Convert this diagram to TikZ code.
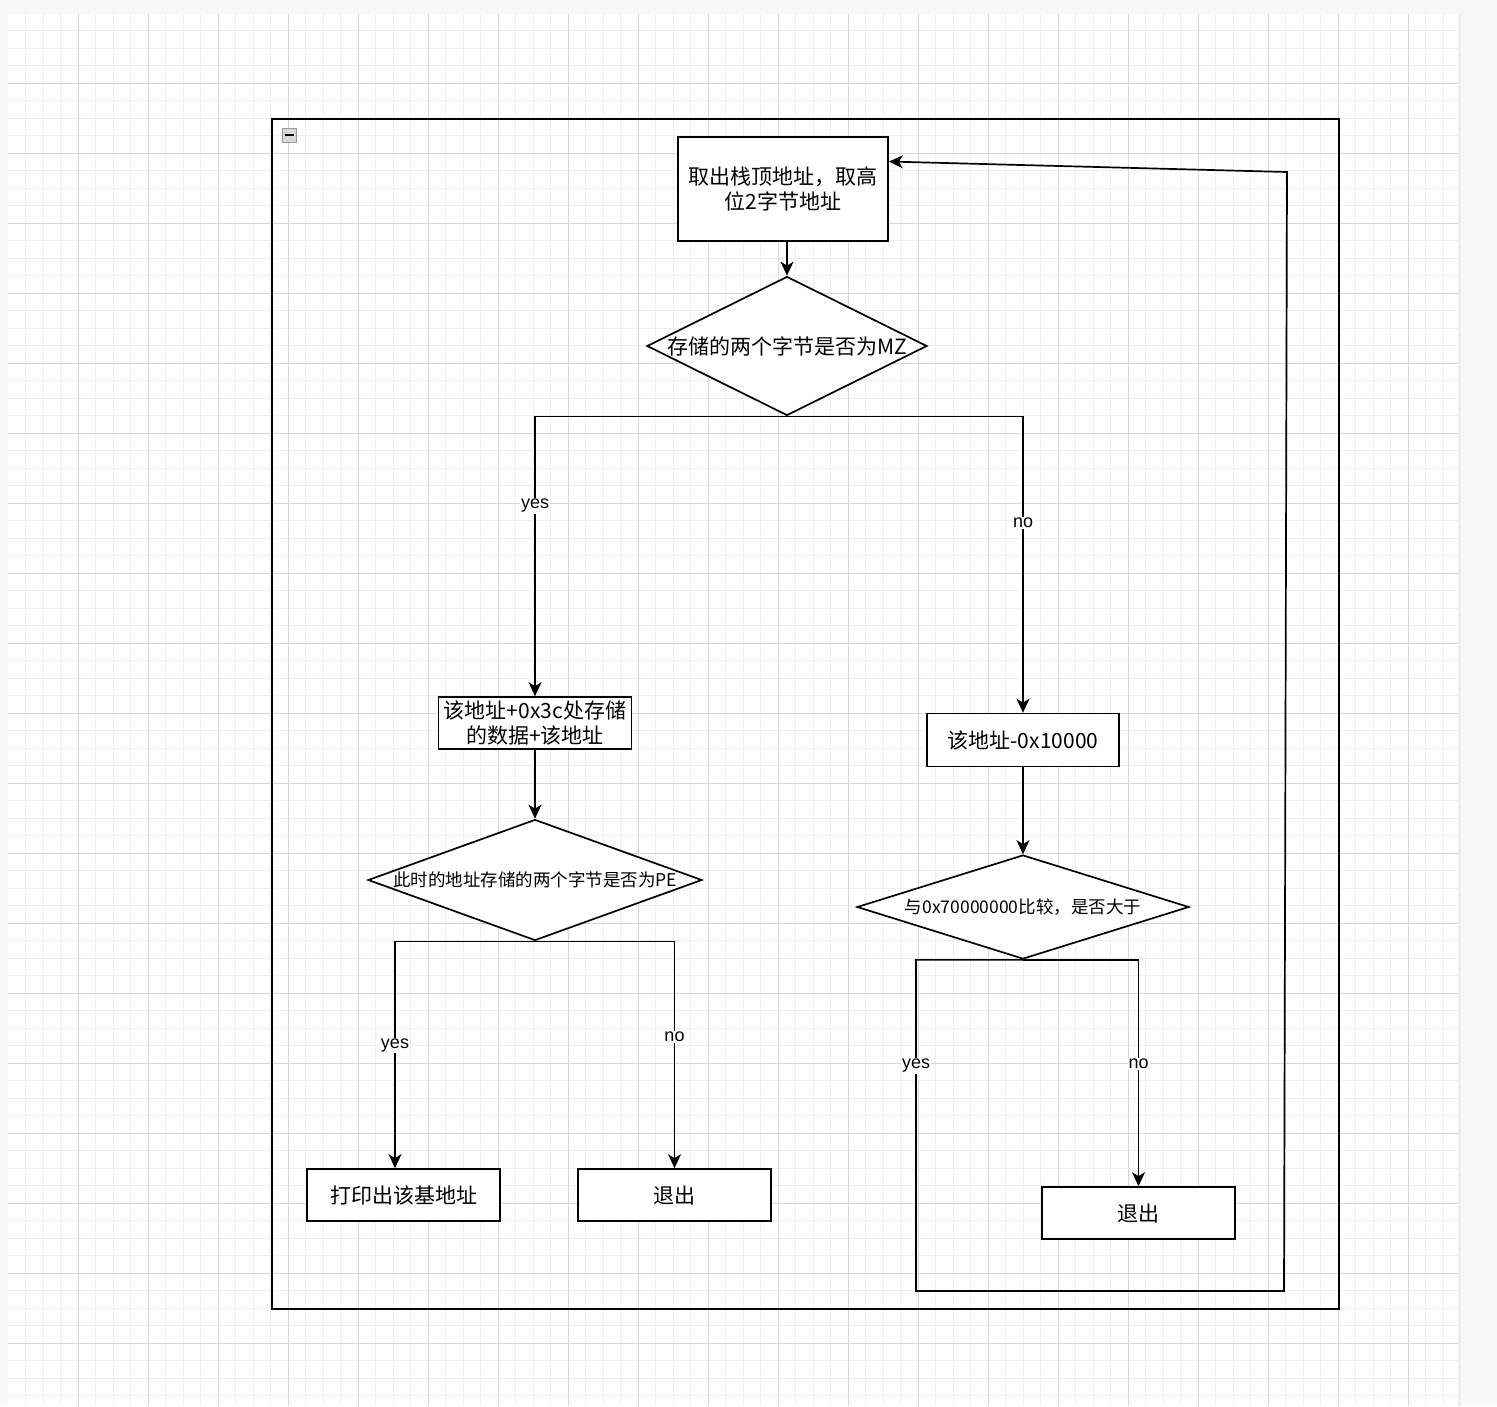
\documentclass[tikz,border=0pt]{standalone}
\usepackage{fontspec}
\setmainfont{Noto Sans CJK SC}
\newfontfamily\labelfont{Liberation Sans}
\usetikzlibrary{
    arrows.meta,
    calc,
    positioning,
    shapes.geometric
}
\definecolor{pagegray}{HTML}{F7F7F7}
\definecolor{minorline}{HTML}{EFEFEF}
\definecolor{majorline}{HTML}{D8D8D8}
\tikzset{
    every picture/.style = {
        > = {Stealth[length=14pt, width=13pt, inset=4pt]},
        line width = 1.7pt
    },
    process/.style = {
        draw,
        fill = white,
        rectangle,
        inner sep = 2pt,
        align = center,
        font = {\fontsize{21}{25}\selectfont}
    },
    decision/.style = {
        draw,
        fill = white,
        diamond,
        inner sep = 0pt
    },
    branch/.style = {
        fill = white,
        inner sep = 1pt,
        font = {\labelfont\fontsize{18}{20}\selectfont}
    },
    minorgrid/.style = {draw = minorline, line width = 1pt},
    majorgrid/.style = {draw = majorline, line width = 1pt}
}
\newcommand{\flowtext}[2]{\makebox[0pt]{\fontsize{#1}{#1}\selectfont #2}}

\begin{document}
\begin{tikzpicture}[x = 1pt, y = -1pt]
    \useasboundingbox (0,0) rectangle (1497,1406);
    % page and grid
    \fill[pagegray] (0,0) rectangle (1497,1406);
    \fill[black!7] (9,15) rectangle (1461,1406);
    \fill[white] (8,14) rectangle (1458,1406);
    \foreach \i in {1,...,82}
        \draw[minorgrid] ({8+17.5*\i},14) -- ({8+17.5*\i},1406);
    \foreach \i in {1,...,79}
        \draw[minorgrid] (8,{13+17.5*\i}) -- (1458,{13+17.5*\i});
    \foreach \i in {1,...,20}
        \draw[majorgrid] ({8+70*\i},14) -- ({8+70*\i},1406);
    \foreach \i in {1,...,19}
        \draw[majorgrid] (8,{13+70*\i}) -- (1458,{13+70*\i});

    % container
    \draw (272,119) rectangle (1339,1309);
    \draw[fill = gray!30, draw = gray!80, line width = 1pt] (282,128) rectangle (296,142);
    \draw[line width = 1.8pt] (284.5,135) -- (293.5,135);

    \node[process, minimum width = 210pt, minimum height = 104pt] (b1) at (783,189) {取出栈顶地址，取高\\位2字节地址};
    \node[decision, minimum width = 280pt, minimum height = 139pt] (d1) at (787,346) {\flowtext{21}{存储的两个字节是否为MZ}};
    \node[process, minimum width = 193pt, minimum height = 52pt] (b2) at (535,723) {该地址+0x3c处存储\\的数据+该地址};
    \node[process, minimum width = 192pt, minimum height = 53pt] (b3) at (1023,740) {该地址-0x10000};
    \node[decision, minimum width = 334pt, minimum height = 121pt] (d2) at (535,880) {\flowtext{17.5}{此时的地址存储的两个字节是否为PE}};
    \node[decision, minimum width = 332pt, minimum height = 104pt] (d3) at (1023,907) {\flowtext{17.5}{与0x70000000比较，是否大于}};
    \node[process, minimum width = 193pt, minimum height = 52pt] (b4) at (403.5,1195) {打印出该基地址};
    \node[process, minimum width = 193pt, minimum height = 52pt] (b5) at (674.5,1195) {退出};
    \node[process, minimum width = 193pt, minimum height = 52pt] (b6) at (1138.5,1213) {退出};

    \coordinate (c1) at (916,1291);
    \coordinate (c2) at (1284,1291);
    \coordinate (c3) at (1287,172);

    \draw[->] (b1.south -| d1.north) -- (d1.north);
    \draw[->] (d1.south) -| node[branch, pos = 0.66] {yes} (b2);
    \draw[->] (d1.south) -| node[branch, pos = 0.68] {no} (b3);
    \draw[->] (b2) -- (d2);
    \draw[->] (b3) -- (d3);
    \draw[->] (d2.south) -| node[branch, pos = 0.73] {yes} ([xshift = -8.5pt]b4.north);
    \draw[->] (d2.south) -| node[branch, pos = 0.71] {no} (b5);
    \draw[->] (d3.south) -| node[branch, pos = 0.73] {no} (b6);
    \draw[->] (d3.south) -| node[branch, pos = 0.66] {yes} (c1) -- (c2) -- (c3)
        -- ($(b1.north east)!0.24!(b1.south east)$);
\end{tikzpicture}
\end{document}
